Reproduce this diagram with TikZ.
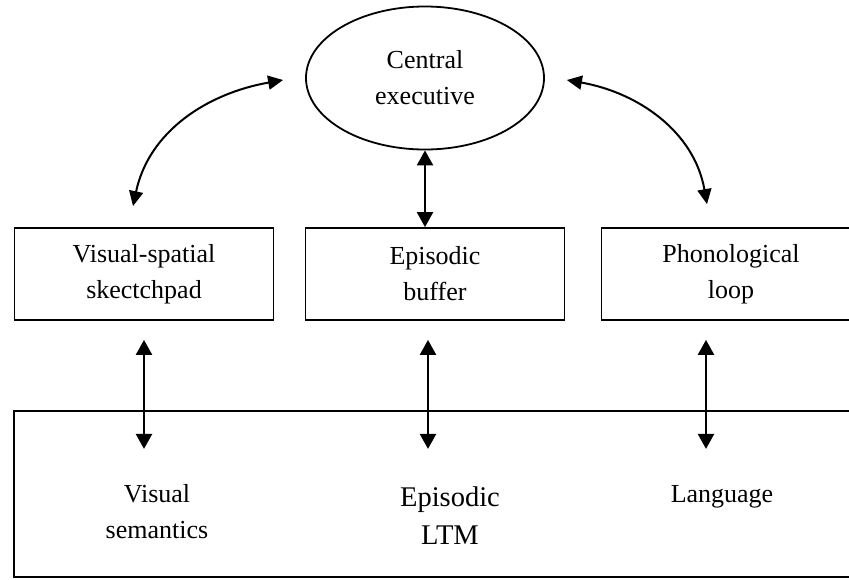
\documentclass[tikz,border=0pt]{standalone}
\usepackage{fontspec}
\setmainfont{Liberation Serif}
\usetikzlibrary{shapes.geometric,arrows.meta,calc}

\begin{document}
\begin{tikzpicture}[x=1pt,y=-1pt]
  \tikzstyle{every node}+=[inner sep=0pt, align=center, font=\fontsize{26}{36}\selectfont]
  \tikzstyle{compbox}=[draw=black, line width=1.8pt, minimum width=259pt, minimum height=92pt]
  \tikzstyle{twoway}=[black, line width=2.4pt, {Triangle[length=15pt,width=16pt]}-{Triangle[length=15pt,width=16pt]}]
  \tikzstyle{bentway}=[black, line width=2pt, {Triangle[length=15pt,width=14pt]}-{Triangle[length=15pt,width=14pt]}]
  \useasboundingbox (0,0) rectangle (849,579);
  \clip (0,0) rectangle (849,579);
  % top: central executive
  \node [ellipse, draw=black, line width=1.8pt, minimum width=238pt, minimum height=143pt] (ce) at (425,78) {Central\\executive};
  % slave systems
  \node [compbox] (vs) at (144,274) {Visual-spatial\\skectchpad};
  \node [compbox] (eb) at (435,274) {Episodic\\buffer};
  \node [compbox] (pl) at (731,274) {Phonological\\loop};
  % long-term memory
  \node [draw=black, line width=1.8pt, minimum width=846pt, minimum height=166pt] (ltm) at (437,494) {};
  \node (vsem) at (157,512) {Visual\\semantics};
  \node [font=\fontsize{28.5}{38}\selectfont] (eltm) at (450,516) {Episodic\\LTM};
  \node (lang) at (722,497) {Language};
  % free ends of the arrows
  \coordinate (ceW) at ($(ce.west)+(-22,2)$);
  \coordinate (ceE) at ($(ce.east)+(22,2)$);
  \coordinate (vsTop) at ($(vs.north)+(-11,-21)$);
  \coordinate (plTop) at ($(pl.north)+(-24,-23)$);
  \coordinate (vsLow) at ($(vs.south)+(0,19)$);
  \coordinate (ebLow) at ($(eb.south)+(-7,19)$);
  \coordinate (plLow) at ($(pl.south)+(-25,19)$);
  \coordinate (vsIn) at ($(vsLow)+(0,109)$);
  \coordinate (ebIn) at ($(ebLow)+(0,109)$);
  \coordinate (plIn) at ($(plLow)+(0,109)$);
  \draw [bentway] (vsTop) to [out=78, in=190] (ceW);
  \draw [bentway] (ceE) to [out=-10, in=100] (plTop);
  \draw [twoway] (ce.south) -- (ce.south |- eb.north);
  \draw [twoway] (vsLow) -- (vsIn);
  \draw [twoway] (ebLow) -- (ebIn);
  \draw [twoway] (plLow) -- (plIn);
\end{tikzpicture}
\end{document}
